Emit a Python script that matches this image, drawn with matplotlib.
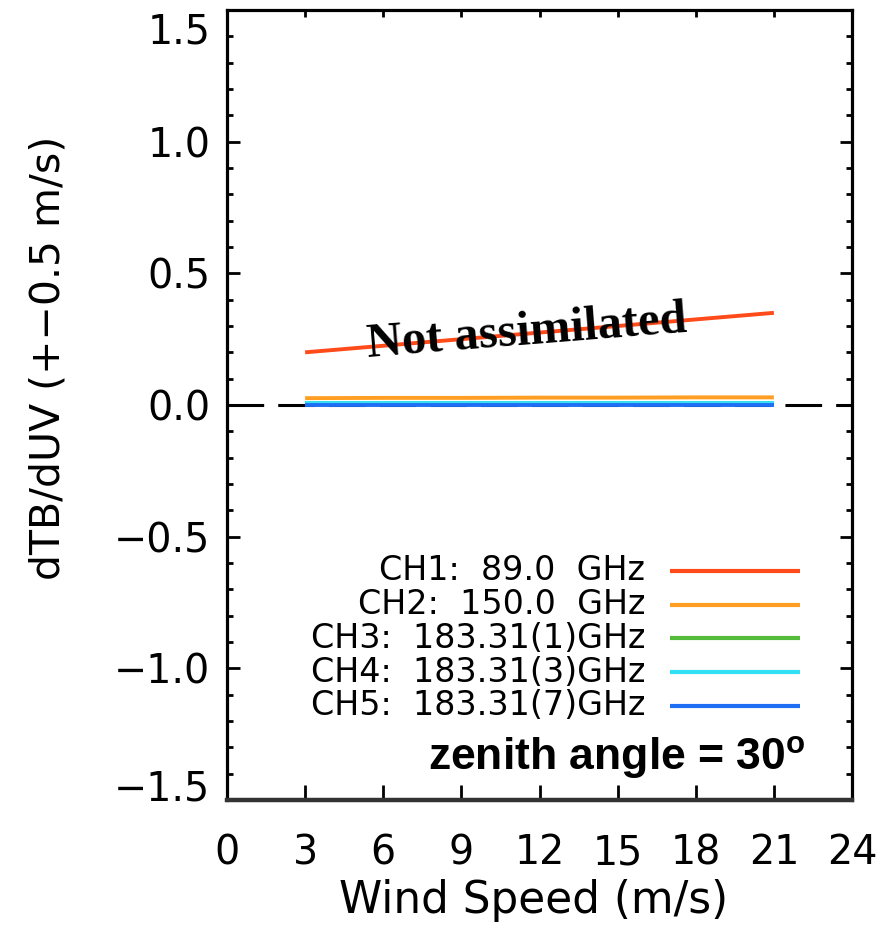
import matplotlib
matplotlib.use("Agg")
import matplotlib.pyplot as plt
import matplotlib.transforms as mtransforms

# dTB/dUV sensitivity per channel, zenith angle 30 deg
wind_speed = [3, 6, 9, 12, 15, 18, 21]
ch1 = [0.200, 0.225, 0.250, 0.275, 0.300, 0.325, 0.350]
ch2 = [0.026, 0.027, 0.027, 0.028, 0.028, 0.029, 0.029]
ch3 = [0.006, 0.006, 0.006, 0.006, 0.006, 0.006, 0.006]
ch4 = [0.009, 0.009, 0.009, 0.009, 0.009, 0.009, 0.009]
ch5 = [0.000, 0.000, 0.000, 0.000, 0.000, 0.000, 0.000]

channel_labels = ["CH1:  89.0  GHz", "CH2:  150.0  GHz", "CH3:  183.31(1)GHz",
                  "CH4:  183.31(3)GHz", "CH5:  183.31(7)GHz"]
channel_colors = ["#ff4a1a", "#ff9e22", "#55bb3a", "#33e0f5", "#1f6ff5"]

x_ticks = [0, 3, 6, 9, 12, 15, 18, 21, 24]
y_ticks = [-1.5, -1.0, -0.5, 0.0, 0.5, 1.0, 1.5]
y_ticklabels = ["\u22121.5", "\u22121.0", "\u22120.5", "0.0", "0.5", "1.0", "1.5"]

plt.rcParams["font.family"] = ["DejaVu Sans"]

fig = plt.figure(figsize=(8.81, 9.34), dpi=100)
ax = fig.add_axes([227 / 881, 134 / 934, 625 / 881, 790 / 934])

series = [ch1, ch2, ch3, ch4, ch5]

# zero reference
ax.axhline(0.0, color="black", lw=2.2, dashes=(12, 4.6), zorder=1)

for vals, col in zip(series, channel_colors):
    ax.plot(wind_speed, vals, color=col, lw=2.8, solid_capstyle="butt", zorder=2)

ax.set_xlim(0, 24)
ax.set_ylim(-1.5, 1.5)
ax.set_xticks(x_ticks)
ax.set_yticks(y_ticks)
ax.set_yticklabels(y_ticklabels)
ax.set_yticks([v / 10 for v in range(-15, 16)], minor=True)

ax.tick_params(axis="both", which="both", direction="in", colors="black",
               top=True, right=True, labelsize=28.5)
ax.tick_params(axis="x", which="major", length=11, width=2.0, pad=24)
ax.tick_params(axis="y", which="major", length=9, width=2.0, pad=12)
ax.tick_params(axis="y", which="minor", length=4.5, width=2.0)
for t in ax.xaxis.get_major_ticks():
    t.tick2line.set_markersize(5)

# end labels sit inside the frame
yt = ax.yaxis.get_major_ticks()
yt[0].label1.set_transform(yt[0].label1.get_transform() +
                           mtransforms.ScaledTranslation(0, 11 / 72, fig.dpi_scale_trans))
yt[-1].label1.set_transform(yt[-1].label1.get_transform() +
                            mtransforms.ScaledTranslation(0, -13 / 72, fig.dpi_scale_trans))

for side in ["left", "right", "top"]:
    ax.spines[side].set_linewidth(2.3)
    ax.spines[side].set_color("black")
ax.spines["bottom"].set_linewidth(3.2)
ax.spines["bottom"].set_color("#333333")

ax.set_xlabel("Wind Speed (m/s)", fontsize=31.5)
ax.xaxis.set_label_coords(0.49, -0.127)
ax.xaxis.label.set_va("center")
ax.set_ylabel("dTB/dUV (+\u22120.5 m/s)", fontsize=29.5)
ax.yaxis.set_label_coords(-0.286, 0.56)
ax.yaxis.label.set_va("center")

ax.text(11.5, 0.275, "Not assimilated", family="Liberation Serif", weight="bold",
        fontsize=35, rotation=4.5, rotation_mode="anchor", ha="center", va="center",
        zorder=3)

# channel key
y0, dy = 0.290, 0.0427
for i, (lab, col) in enumerate(zip(channel_labels, channel_colors)):
    yy = y0 - i * dy
    ax.plot([0.709, 0.917], [yy, yy], transform=ax.transAxes, color=col, lw=3.0,
            solid_capstyle="butt")
    ax.text(0.669, yy, lab, transform=ax.transAxes, ha="right", va="center",
            fontsize=24)

ax.text(0.925, 0.054, "zenith angle = 30$^\\mathregular{o}$", transform=ax.transAxes,
        ha="right", va="center", family="Liberation Sans", weight="bold", fontsize=32)

fig.savefig("out.png", dpi=100)
